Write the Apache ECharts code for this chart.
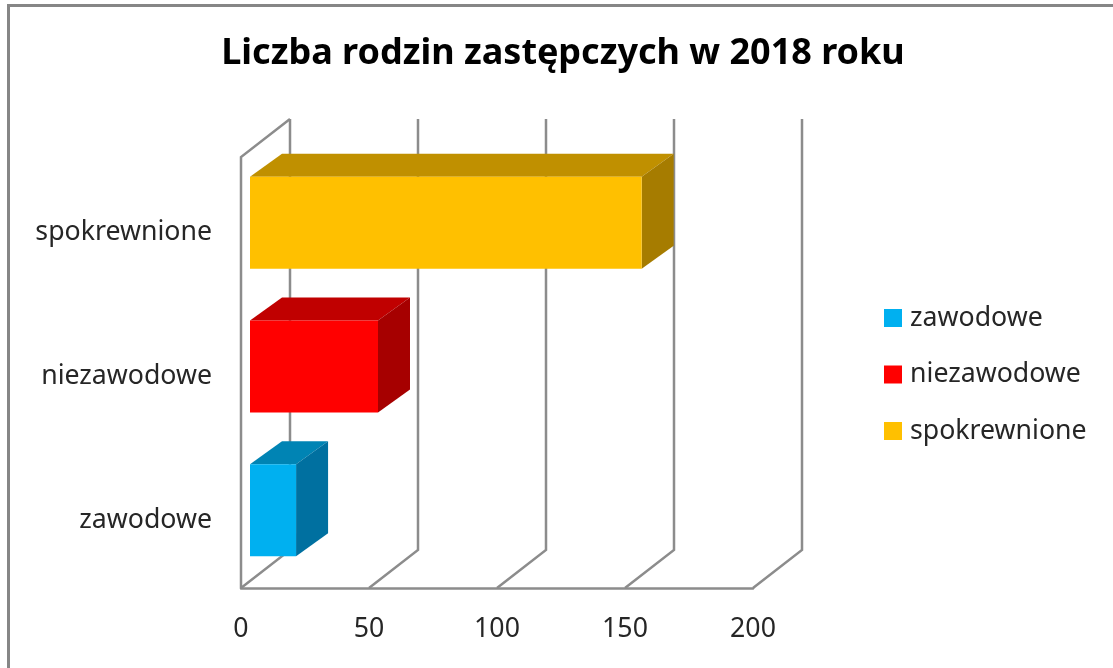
<!DOCTYPE html>
<html>
<head>
<meta charset="utf-8">
<title>Liczba rodzin zastępczych</title>
<script src="https://cdn.jsdelivr.net/npm/echarts@6/dist/echarts.min.js"></script>
<style>
  html, body { margin: 0; padding: 0; background: #fff; }
  #main { width: 1113px; height: 668px; }
</style>
</head>
<body>
<div id="main"></div>
<script>
var titleText = "Liczba rodzin zastępczych w 2018 roku";
var categories = ["zawodowe", "niezawodowe", "spokrewnione"];
var values = [18, 50, 153];
var tickValues = [0, 50, 100, 150, 200];
var frontColors = ["#00B0F0", "#FF0000", "#FFC000"];
var topColors = ["#0084B4", "#C00000", "#C09000"];
var sideColors = ["#0070A0", "#A60000", "#A67C00"];

var fontName = "'Noto Sans', sans-serif";
var chart = echarts.init(document.getElementById("main"));

// tylna sciana wykresu i linie siatki
function renderWall(params, api) {
  var box = params.coordSys;
  var x = api.coord([api.value(0), 0])[0];
  var bottom = box.y + box.height;
  var lineStyle = { stroke: "#8c8c8c", lineWidth: 2.5, fill: null };
  var children = [{
    type: "polyline",
    shape: { points: [[x, bottom], [x + 49, bottom - 38], [x + 49, box.y - 38]] },
    style: lineStyle
  }];
  if (api.value(0) === 0) {
    children.push({
      type: "polyline",
      shape: { points: [[x, bottom], [x, box.y], [x + 49, box.y - 38]] },
      style: lineStyle
    });
  }
  return { type: "group", children: children };
}

// slupek 3d: przod, gora i bok
function renderBar(params, api) {
  var i = api.value(1);
  var end = api.coord([api.value(0), i]);
  var start = api.coord([0, i]);
  var h = api.size([0, 1])[1] * 0.64;
  var x0 = start[0] + 9;
  var x1 = end[0] + 9;
  var y0 = end[1] - 6 - h / 2;
  var y1 = y0 + h;
  var dx = 32;
  var dy = 23;
  return {
    type: "group",
    children: [
      {
        type: "polygon",
        z2: 10,
        shape: { points: [[x0, y0], [x0 + dx, y0 - dy], [x1 + dx, y0 - dy], [x1, y0]] },
        style: { fill: topColors[i] }
      },
      {
        type: "polygon",
        z2: 10,
        shape: { points: [[x1, y0], [x1 + dx, y0 - dy], [x1 + dx, y1 - dy], [x1, y1]] },
        style: { fill: sideColors[i] }
      },
      {
        type: "rect",
        z2: 11,
        shape: { x: x0, y: y0, width: x1 - x0, height: h },
        style: { fill: frontColors[i] }
      }
    ]
  };
}

var series = [{
  type: "custom",
  silent: true,
  z: 1,
  renderItem: renderWall,
  data: tickValues.map(function (v) { return [v]; }),
  encode: { x: 0 }
}];
categories.forEach(function (name, i) {
  series.push({
    name: name,
    type: "custom",
    z: 3,
    renderItem: renderBar,
    itemStyle: { color: frontColors[i] },
    data: [[values[i], i]],
    encode: { x: 0, y: 1 }
  });
});

var option = {
  animation: false,
  backgroundColor: "#fff",
  title: {
    text: titleText,
    left: 558,
    top: 31,
    textAlign: "center",
    textStyle: { color: "#000", fontFamily: fontName, fontWeight: "bold", fontSize: 36 }
  },
  legend: {
    orient: "vertical",
    left: 884,
    top: 301.5,
    padding: 0,
    itemWidth: 18,
    itemHeight: 18,
    itemGap: 23.5,
    icon: "rect",
    data: categories,
    textStyle: {
      color: "#262626",
      fontFamily: fontName,
      fontSize: 26.7,
      lineHeight: 30,
      padding: [3, 0, 0, 3]
    }
  },
  grid: { left: 241, top: 157, width: 512, height: 431 },
  xAxis: {
    type: "value",
    min: 0,
    max: 200,
    interval: 50,
    splitLine: { show: false },
    axisTick: { show: false },
    axisLine: { show: true, lineStyle: { color: "#8c8c8c", width: 2.5 } },
    axisLabel: { color: "#262626", fontFamily: fontName, fontSize: 26.7, margin: 28 }
  },
  yAxis: {
    type: "category",
    data: categories,
    axisTick: { show: false },
    axisLine: { show: false },
    axisLabel: {
      color: "#262626",
      fontFamily: fontName,
      fontSize: 26.7,
      margin: 29,
      verticalAlign: "top",
      lineHeight: 8
    }
  },
  graphic: [{
    type: "polyline",
    silent: true,
    shape: { points: [[8.5, 668], [8.5, 5.5], [1113, 5.5]] },
    style: { stroke: "#868686", lineWidth: 3, fill: null }
  }],
  series: series
};
chart.setOption(option);
</script>
</body>
</html>
